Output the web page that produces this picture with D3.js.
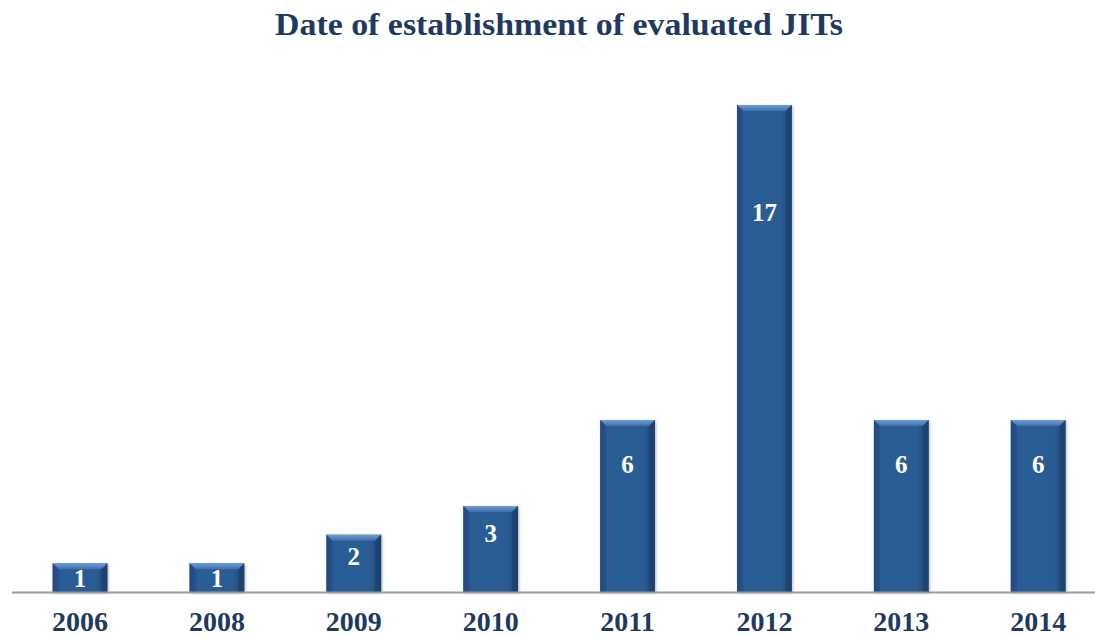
<!DOCTYPE html>
<html>
<head>
<meta charset="utf-8">
<script src="https://cdn.jsdelivr.net/npm/d3@7"></script>
<style>
  body { margin: 0; background: #fff; }
  svg { display: block; }
</style>
</head>
<body>
<svg id="chart"></svg>
<script>
// data
var years = ['2006', '2008', '2009', '2010', '2011', '2012', '2013', '2014']
var counts = [1, 1, 2, 3, 6, 17, 6, 6]
var title = 'Date of establishment of evaluated JITs'

var width = 1095
var height = 637
var baseY = 592
var serif = 'Liberation Serif, DejaVu Serif, serif'
var navy = '#1f3a60'

var svg = d3.select('#chart').attr('width', width).attr('height', height)

var defs = svg.append('defs')

// side shading of the bars
var sideGrad = defs.append('linearGradient').attr('id', 'side')
  .attr('x1', 0).attr('x2', 1).attr('y1', 0).attr('y2', 0)
sideGrad.append('stop').attr('offset', '0%').attr('stop-color', '#1d4474')
sideGrad.append('stop').attr('offset', '14%').attr('stop-color', '#2c5c96')
sideGrad.append('stop').attr('offset', '80%').attr('stop-color', '#2b5b94')
sideGrad.append('stop').attr('offset', '100%').attr('stop-color', '#1c416f')

var topGrad = defs.append('linearGradient').attr('id', 'topbevel')
  .attr('x1', 0).attr('x2', 0).attr('y1', 0).attr('y2', 1)
topGrad.append('stop').attr('offset', '0%').attr('stop-color', '#6f9dd4')
topGrad.append('stop').attr('offset', '100%').attr('stop-color', '#3d6eab')

var shadow = defs.append('filter').attr('id', 'shadow')
  .attr('x', '-20%').attr('y', '-10%').attr('width', '140%').attr('height', '120%')
shadow.append('feDropShadow').attr('dx', 1).attr('dy', 1).attr('stdDeviation', 1.5)
  .attr('flood-color', '#000').attr('flood-opacity', 0.3)

var x = d3.scaleBand()
  .domain(years)
  .range([11.6, 1106.6])
  .paddingInner(0.6)
  .paddingOuter(0.3)

var y = d3.scaleLinear()
  .domain([0, 17])
  .range([baseY, 105])

var data = years.map(function (yr, i) { return { year: yr, value: counts[i] } })

// title
svg.append('text')
  .attr('x', 559)
  .attr('y', 35)
  .attr('text-anchor', 'middle')
  .attr('font-family', serif)
  .attr('font-weight', 'bold')
  .attr('font-size', 32)
  .attr('textLength', 568)
  .attr('lengthAdjust', 'spacingAndGlyphs')
  .attr('fill', navy)
  .text(title)

// bars
var bars = svg.append('g').attr('class', 'bars')
  .selectAll('g')
  .data(data)
  .enter().append('g')
    .attr('transform', function (d) { return 'translate(' + x(d.year) + ',' + y(d.value) + ')' })

var bw = x.bandwidth()
var bevel = 6

bars.append('rect')
  .attr('width', bw)
  .attr('height', function (d) { return baseY - y(d.value) })
  .attr('fill', 'url(#side)')
  .attr('filter', 'url(#shadow)')

bars.append('path')
  .attr('d', 'M0,0 L' + bw + ',0 L' + (bw - bevel) + ',' + bevel + ' L' + bevel + ',' + bevel + ' Z')
  .attr('fill', 'url(#topbevel)')

bars.append('path')
  .attr('d', function (d) {
    var h = baseY - y(d.value)
    return 'M0,0 L' + bevel + ',' + bevel + ' L' + bevel + ',' + h + ' L0,' + h + ' Z'
  })
  .attr('fill', '#244f85')
  .attr('opacity', 0.6)

bars.append('path')
  .attr('d', function (d) {
    var h = baseY - y(d.value)
    return 'M' + bw + ',0 L' + (bw - bevel) + ',' + bevel + ' L' + (bw - bevel) + ',' + h + ' L' + bw + ',' + h + ' Z'
  })
  .attr('fill', '#1b406d')
  .attr('opacity', 0.6)

// value labels
bars.append('text')
  .attr('x', bw / 2)
  .attr('y', function (d) {
    var h = baseY - y(d.value)
    return Math.min(h / 2 + 1, 10 + 0.2 * h)
  })
  .attr('dy', '0.35em')
  .attr('text-anchor', 'middle')
  .attr('font-family', serif)
  .attr('font-weight', 'bold')
  .attr('font-size', 25)
  .attr('fill', '#fff')
  .text(function (d) { return d.value })

// axis
var xAxis = svg.append('g')
  .attr('transform', 'translate(0,' + baseY + ')')
  .call(d3.axisBottom(x).tickSize(0).tickPadding(19))

xAxis.select('.domain')
  .attr('d', 'M12,0.5H1095')
  .attr('stroke', '#9a9a9a')
  .attr('stroke-width', 2)

xAxis.selectAll('text')
  .attr('font-family', serif)
  .attr('font-weight', 'bold')
  .attr('font-size', 28)
  .attr('fill', navy)
</script>
</body>
</html>
